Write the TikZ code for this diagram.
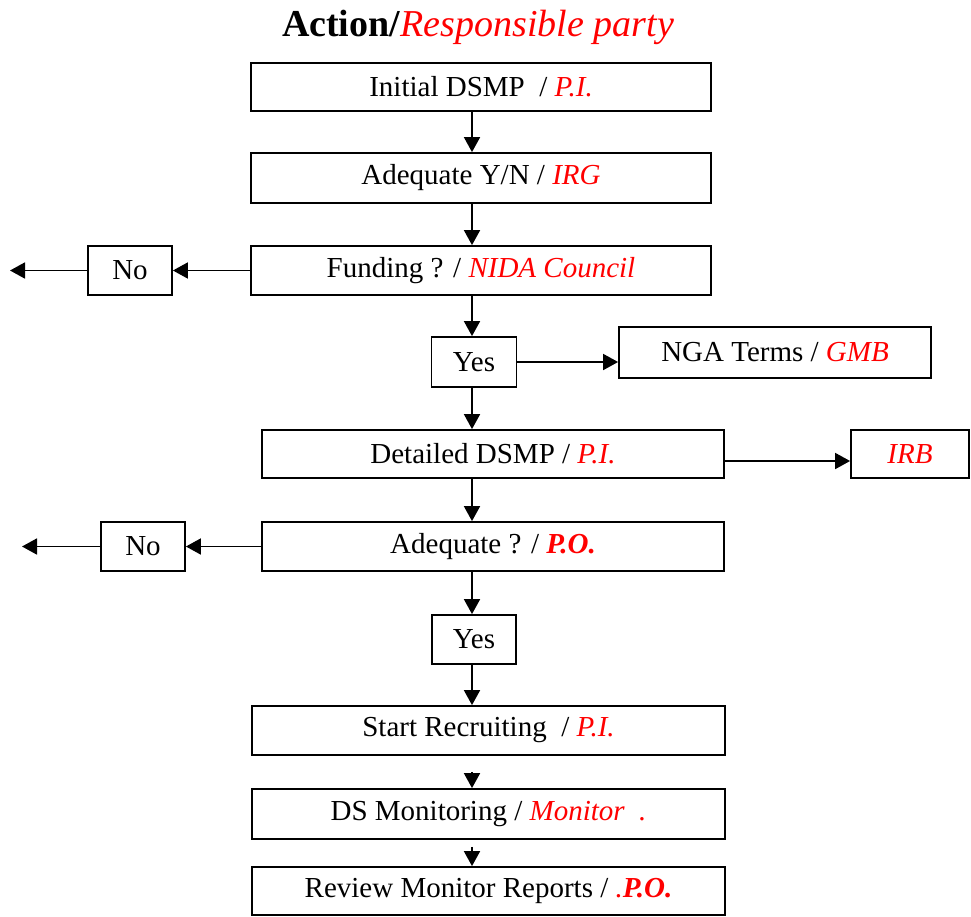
\documentclass[tikz,border=0pt]{standalone}
\usepackage{fontspec}
\setmainfont{Liberation Serif}
\usetikzlibrary{arrows.meta}
\definecolor{party}{RGB}{255,0,0}
\newcommand{\resp}[1]{{\color{party}\itshape #1}}
\newcommand{\respb}[1]{{\color{party}\bfseries\itshape #1}}
\begin{document}
\begin{tikzpicture}[x=1pt,y=-1pt,
  box/.style={draw=black, line width=1.8pt, fill=white, inner sep=0pt,
    font=\fontsize{29}{32}\selectfont},
  arr/.style={line width=1.8pt, -{Triangle[length=15pt,width=16pt]}},
]
\useasboundingbox (0,0) rectangle (971,916);
\coordinate (axis) at (472,0);

\node[anchor=base, font=\fontsize{38}{42}\selectfont] (title) at (478,36)
  {\textbf{Action/}\resp{Responsible party}};

\node[box, minimum width=460pt, minimum height=48pt] (n1) at (481,87)
  {Initial DSMP~~/ \resp{P.I.}};
\node[box, minimum width=460pt, minimum height=50pt] (n2) at (481,178)
  {Adequate Y/N / \resp{IRG}};
\node[box, minimum width=460pt, minimum height=49pt] (n3) at (481,270.5)
  {Funding ? / \resp{NIDA Council}};
\node[box, minimum width=84pt, minimum height=49pt] (no1) at (130,270.5) {No};
\node[box, minimum width=85pt, minimum height=50pt] (yes1) at (474,362) {Yes};
\node[box, minimum width=312pt, minimum height=51pt] (nga) at (775,352.5)
  {NGA Terms / \resp{GMB}};
\node[box, minimum width=462pt, minimum height=48pt] (det) at (493,454)
  {Detailed DSMP / \resp{P.I.}};
\node[box, minimum width=118pt, minimum height=48pt] (irb) at (910,454)
  {\resp{IRB}};
\node[box, minimum width=462pt, minimum height=49pt] (ade) at (493,546.5)
  {Adequate ? / \respb{P.O.}};
\node[box, minimum width=84pt, minimum height=49pt] (no2) at (143,546.5) {No};
\node[box, minimum width=84pt, minimum height=49pt] (yes2) at (474,639.5) {Yes};
\node[box, minimum width=473pt, minimum height=49pt] (sr) at (488.5,730.5)
  {Start Recruiting~~/ \resp{P.I.}};
\node[box, minimum width=473pt, minimum height=50pt] (ds) at (488.5,814)
  {DS Monitoring / \resp{Monitor~~.}};
\node[box, minimum width=473pt, minimum height=48pt] (rev) at (488.5,891)
  {Review Monitor Reports / \resp{.}\respb{P.O.}};

\coordinate (endA) at (10,270.5);
\coordinate (endB) at (22,546.5);

\draw[arr] (n1.south -| axis) -- (n2.north -| axis);
\draw[arr] (n2.south -| axis) -- (n3.north -| axis);
\draw[arr] (n3.west) -- (no1.east);
\draw[arr] (no1.west) -- (endA);
\draw[arr] (n3.south -| axis) -- (yes1.north -| axis);
\draw[arr] (yes1.east) -- (yes1.east -| nga.west);
\draw[arr] (yes1.south -| axis) -- (det.north -| axis);
\draw[arr] ([yshift=-7pt]det.east) -- ([yshift=-7pt]det.east -| irb.west);
\draw[arr] (det.south -| axis) -- (ade.north -| axis);
\draw[arr] (ade.west) -- (no2.east);
\draw[arr] (no2.west) -- (endB);
\draw[arr] (ade.south -| axis) -- (yes2.north -| axis);
\draw[arr] (yes2.south -| axis) -- (sr.north -| axis);
\draw[arr, shorten <=16pt] (sr.south -| axis) -- (ds.north -| axis);
\draw[arr, shorten <=7pt] (ds.south -| axis) -- (rev.north -| axis);
\end{tikzpicture}
\end{document}
